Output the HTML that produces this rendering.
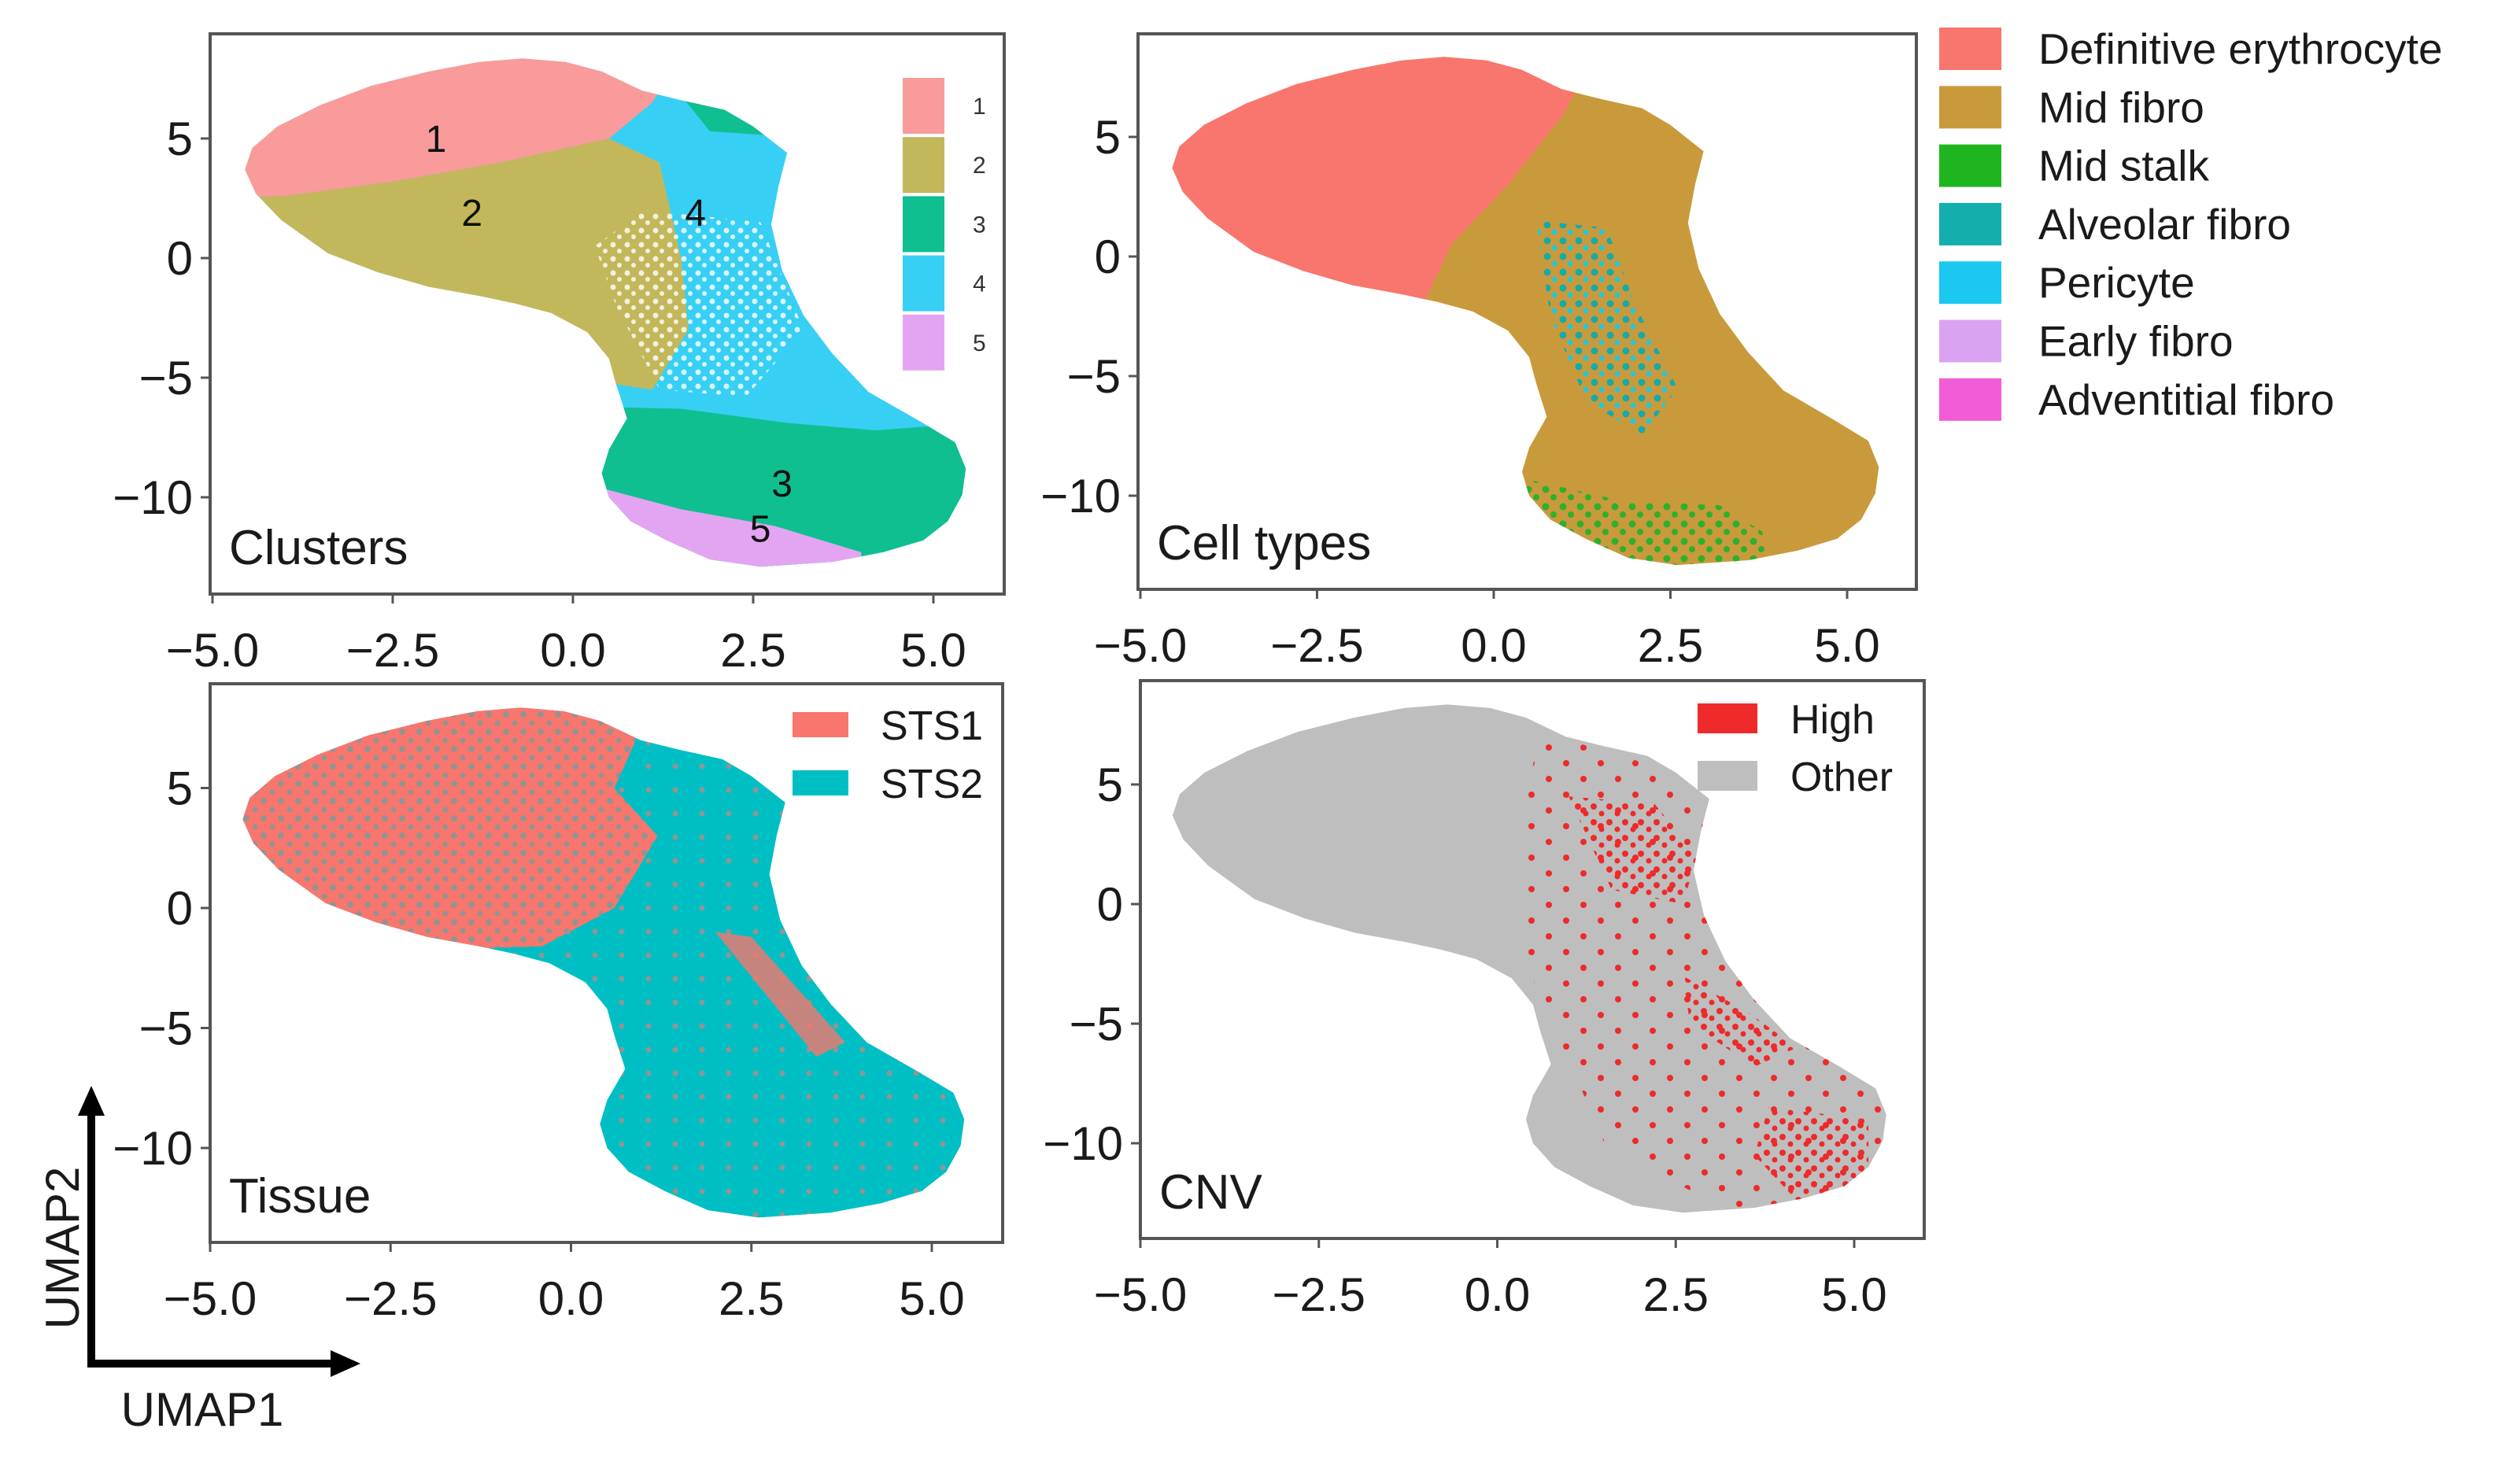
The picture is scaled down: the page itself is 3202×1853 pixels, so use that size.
<!DOCTYPE html>
<html><head><meta charset="utf-8"><style>
html,body{margin:0;padding:0;background:#fff;}
svg{display:block;font-family:"Liberation Sans",sans-serif;}
</style></head><body>
<svg id="fig" width="3202" height="1853" viewBox="0 0 3202 1853" xmlns="http://www.w3.org/2000/svg">
<defs>
<pattern id="dotTeal" width="22" height="22" patternUnits="userSpaceOnUse"><circle cx="5" cy="6" r="4" fill="#19B7BB"/><circle cx="16" cy="17" r="3.5" fill="#19B7BB"/></pattern>
<pattern id="dotSalmon" width="34" height="30" patternUnits="userSpaceOnUse"><circle cx="8" cy="14" r="3.5" fill="#F27A70"/></pattern>
<pattern id="dotRed" width="20" height="20" patternUnits="userSpaceOnUse"><circle cx="5" cy="5" r="4" fill="#EE2A2A"/><circle cx="15" cy="14" r="3.5" fill="#EE2A2A"/></pattern>
<pattern id="dotRedSparse" width="44" height="40" patternUnits="userSpaceOnUse"><circle cx="10" cy="10" r="4" fill="#EE2A2A"/><circle cx="32" cy="30" r="4" fill="#EE2A2A"/></pattern>
<pattern id="dotGreen" width="22" height="22" patternUnits="userSpaceOnUse"><circle cx="6" cy="6" r="4.5" fill="#2DB02D"/><circle cx="16" cy="16" r="4" fill="#2DB02D"/></pattern>
<pattern id="dotAlv" width="20" height="20" patternUnits="userSpaceOnUse"><circle cx="6" cy="6" r="4.5" fill="#15ABA8"/><circle cx="15" cy="15" r="3.5" fill="#22C8D8"/></pattern>
<pattern id="dotWhite" width="18" height="18" patternUnits="userSpaceOnUse"><circle cx="5" cy="5" r="3.5" fill="#fff"/><circle cx="13" cy="13" r="3" fill="#fff"/></pattern>
</defs>
</svg>
<script>
// ---- data (UMAP coordinates) ----
const xTicks = [-5.0, -2.5, 0.0, 2.5, 5.0];
const xTickLabels = ["\u22125.0", "\u22122.5", "0.0", "2.5", "5.0"];
const yTicks = [5, 0, -5, -10];
const yTickLabels = ["5", "0", "\u22125", "\u221210"];
const cloudOutline = [[-4.55,3.7],[-4.45,4.6],[-4.1,5.5],[-3.5,6.4],[-2.8,7.2],[-2.0,7.8],[-1.3,8.2],[-0.7,8.35],[-0.1,8.2],[0.4,7.8],[0.96,7.0],[1.5,6.6],[2.1,6.2],[2.5,5.5],[2.97,4.4],[2.85,3],[2.75,1.4],[2.9,-0.5],[3.2,-2.4],[3.6,-4],[4.1,-5.6],[4.8,-6.8],[5.3,-7.7],[5.45,-8.8],[5.4,-9.9],[5.2,-11],[4.86,-11.8],[4.3,-12.3],[3.6,-12.7],[2.6,-12.9],[1.9,-12.6],[1.3,-11.8],[0.8,-11],[0.5,-10],[0.4,-9],[0.5,-8],[0.75,-6.7],[0.6,-5.3],[0.5,-4.2],[0.2,-3.1],[-0.3,-2.3],[-0.8,-1.9],[-1.27,-1.6],[-2,-1.2],[-2.7,-0.6],[-3.4,0.2],[-4.05,1.6],[-4.4,2.7]];
// clusters panel
const c4Region = [[0.8,9],[3.5,6],[3.2,0],[4.6,-5],[5.5,-7.2],[3.2,-7.4],[1.5,-5.6],[1.3,-3],[1.2,0.5]];
const c2Region = [[-5,2.5],[-4,2.6],[-2.5,3.2],[-1,4],[0.5,5],[1.2,4],[1.5,0],[1.6,-3],[1.1,-5.5],[0,-5],[-5,-2]];
const c1Region = [[-5,9],[1.6,9],[1.1,6.5],[0.5,5],[-1,4],[-2.5,3.2],[-4,2.6],[-5,2.5]];
const c3Region = [[0,-6.2],[1.5,-6.3],[3,-6.9],[4.2,-7.2],[6,-6.8],[6,-13.5],[0,-13.5]];
const c3TopRegion = [[1.5,6.8],[2.6,6.3],[2.9,5.1],[1.9,5.3]];
const c5Region = [[0,-9.3],[1.5,-10.5],[2.8,-11.2],[4,-12.3],[4,-14],[0,-14]];
const neckSparse = [[0.3,0.5],[1.0,2],[2.6,1.5],[3.2,-3],[2.4,-5.8],[1.2,-5.5],[0.6,-2]];
const clusterLabels = ["1","2","4","3","5"];
const clusterLabelX = [-1.9,-1.4,1.7,2.9,2.6];
const clusterLabelY = [5.0,1.9,1.9,-9.4,-11.3];
const clusterLegend = ["1","2","3","4","5"];
const clusterColors = ["#F99B9B","#C3B75B","#10BF90","#38CFF5","#E3A5F2"];
// cell types panel
const salmonCT = [[-5,9],[1.5,9],[1.0,6],[0.2,3],[-0.6,0.5],[-1,-2],[-5,-2]];
const alveolarCT = [[0.6,1.5],[1.6,1.2],[2.0,-2],[2.6,-5.5],[2.1,-7.5],[1.3,-6],[0.8,-2.5]];
const greenCT = [[0.3,-9.2],[1.8,-10.2],[3.2,-10.4],[3.8,-11.5],[4,-14],[0,-14]];
const cellTypeNames = ["Definitive erythrocyte","Mid fibro","Mid stalk","Alveolar fibro","Pericyte","Early fibro","Adventitial fibro"];
const cellTypeColors = ["#F8766D","#C99A3C","#1FB51F","#14AEAD","#1BC8F0","#D9A3F2","#F25CD6"];
// tissue panel
const salmonTissue = [[-5,9],[0.6,9],[0.9,7],[0.6,5],[1.2,3],[0.6,0],[-0.4,-1.6],[-5,-2]];
const salmonStreak = [[2.0,-1],[2.5,-1.2],[3.8,-5.6],[3.4,-6.2]];
const tissueNames = ["STS1","STS2"];
const tissueColors = ["#F8766D","#00BFC4"];
// cnv panel
const redSparse = [[0.6,7.2],[2.4,5.6],[2.9,3.5],[3.1,-1],[4.3,-5.5],[5.5,-8.5],[5.2,-12],[3.2,-12.8],[1.5,-10],[1.0,-6.5],[0.4,-2.5],[0.3,3]];
const redDense1 = [[1.0,4.5],[2.2,4.2],[2.8,2.0],[2.6,0.0],[1.6,0.6]];
const redDense2 = [[2.6,-3],[3.5,-4.5],[4.2,-6],[3.6,-6.8],[2.7,-5]];
const redDense3 = [[3.8,-8.5],[5.2,-9],[5.2,-11.5],[4.2,-12.4],[3.6,-10.5]];
const cnvNames = ["High","Other"];
const cnvColors = ["#EE2A2A","#BEBEBE"];

const NS = "http://www.w3.org/2000/svg";
const svg = document.getElementById('fig');
function mk(tag, attrs, parent){const e=document.createElementNS(NS,tag);for(const k in attrs)e.setAttribute(k,attrs[k]);(parent||svg).appendChild(e);return e;}

const panels = [
 {id:"clusters", title:"Clusters", L:267,T:43,R:1276,B:755, x0:270, xu:91.6, y0:328, yu:30.4},
 {id:"cell-types", title:"Cell types", L:1446,T:43,R:2435,B:749, x0:1449, xu:89.8, y0:326, yu:30.4},
 {id:"tissue", title:"Tissue", L:267,T:869,R:1274,B:1579, x0:267, xu:91.7, y0:1154, yu:30.5},
 {id:"cnv", title:"CNV", L:1449,T:865,R:2445,B:1574, x0:1449, xu:90.7, y0:1149, yu:30.4}
];
panels.forEach(p=>{ p.sx = v => p.x0 + (v+5)*p.xu; p.sy = v => p.y0 - v*p.yu; });
function pts(p, arr){return arr.map(d=>p.sx(d[0]).toFixed(1)+","+p.sy(d[1]).toFixed(1)).join(" ");}

panels.forEach((p,i)=>{
  const g = mk('g',{});
  
  
  const cp = mk('clipPath',{id:'clip'+i}, g);
  mk('polygon',{points:pts(p,cloudOutline)}, cp);
  const cloud = mk('g',{'clip-path':'url(#clip'+i+')'}, g);
  
  
  function region(arr, fill, name){const e=mk('polygon',{points:pts(p,arr),fill:fill},cloud);return e;}
  if(i===0){
    region(cloudOutline,clusterColors[3],'cluster-4-region');
    region(c4Region,clusterColors[3],'cluster-4-region');
    region(c2Region,clusterColors[1],'cluster-2-region');
    region(c1Region,clusterColors[0],'cluster-1-region');
    region(c3Region,clusterColors[2],'cluster-3-region');
    region(c3TopRegion,clusterColors[2],'cluster-3-top-region');
    region(c5Region,clusterColors[4],'cluster-5-region');
    region(neckSparse,'url(#dotWhite)','sparse-neck-gaps').setAttribute('opacity','0.8');
  } else if(i===1){
    region(cloudOutline,cellTypeColors[1],'mid-fibro-region');
    region(salmonCT,cellTypeColors[0],'erythrocyte-region');
    region(alveolarCT,'url(#dotAlv)','alveolar-fibro-region');
    region(greenCT,'url(#dotGreen)','mid-stalk-region');
  } else if(i===2){
    region(cloudOutline,tissueColors[1],'sts2-region');
    region(cloudOutline,'url(#dotSalmon)','sts1-speckle').setAttribute('opacity','0.6');
    region(salmonTissue,tissueColors[0],'sts1-region');
    region(salmonTissue,'url(#dotTeal)','sts2-speckle').setAttribute('opacity','0.45');
    region(salmonStreak,tissueColors[0],'sts1-streak').setAttribute('opacity','0.8');
  } else {
    region(cloudOutline,cnvColors[1],'other-region');
    region(redSparse,'url(#dotRedSparse)','high-sparse-region');
    region(redDense1,'url(#dotRed)','high-dense-region');
    region(redDense2,'url(#dotRed)','high-dense-region');
    region(redDense3,'url(#dotRed)','high-dense-region');
  }
  const fr = mk('rect',{x:p.L,y:p.T,width:p.R-p.L,height:p.B-p.T,fill:'none',stroke:'#555',"stroke-width":4}, g);
   
  xTicks.forEach((v,k)=>{
    mk('line',{x1:p.sx(v),x2:p.sx(v),y1:p.B,y2:p.B+12,stroke:'#555','stroke-width':3},g);
    const t = mk('text',{x:p.sx(v),y:p.B+92,'text-anchor':'middle','font-size':60,fill:'#1a1a1a'},g);
    t.textContent = xTickLabels[k];
     
  });
  yTicks.forEach((v,k)=>{
    mk('line',{x1:p.L-12,x2:p.L,y1:p.sy(v),y2:p.sy(v),stroke:'#555','stroke-width':3},g);
    const t = mk('text',{x:p.L-22,y:p.sy(v)+21,'text-anchor':'end','font-size':60,fill:'#1a1a1a'},g);
    t.textContent = yTickLabels[k];
     
  });
  const tt = mk('text',{x:p.L+24,y:p.B-38,'font-size':62,fill:'#1a1a1a'},g);
  tt.textContent = p.title;
   
  p.g = g;
});

const P1 = panels[0];
clusterLabels.forEach((s,k)=>{
  const t = mk('text',{x:P1.sx(clusterLabelX[k]),y:P1.sy(clusterLabelY[k])+17,'text-anchor':'middle','font-size':48,fill:'#111'},P1.g);
  t.textContent = s;
   
});
clusterLegend.forEach((s,k)=>{
  const y = 97 + k*75.2;
  const r = mk('rect',{x:1147,y:y+2,width:53,height:71,fill:clusterColors[k]},P1.g);
   
  const t = mk('text',{x:1236,y:y+48,'font-size':30,fill:'#333'},P1.g);
  t.textContent = s;
   
});
cellTypeNames.forEach((s,k)=>{
  const cy = 62 + k*74.3;
  const r = mk('rect',{x:2464,y:cy-27,width:79,height:54,fill:cellTypeColors[k]});
   
  const t = mk('text',{x:2590,y:cy+19,'font-size':55,fill:'#1a1a1a'});
  t.textContent = s;
   
});
tissueNames.forEach((s,k)=>{
  const cy = 921 + k*74;
  const r = mk('rect',{x:1007,y:cy-16,width:71,height:32,fill:tissueColors[k]});
   
  const t = mk('text',{x:1119,y:cy+19,'font-size':52,fill:'#1a1a1a'});
  t.textContent = s;
   
});
cnvNames.forEach((s,k)=>{
  const cy = 913 + k*73;
  const r = mk('rect',{x:2157,y:cy-19,width:76,height:38,fill:cnvColors[k]});
   
  const t = mk('text',{x:2275,y:cy+19,'font-size':52,fill:'#1a1a1a'});
  t.textContent = s;
   
});
const ax = mk('g',{});
 
mk('line',{x1:116,y1:1733,x2:116,y2:1410,stroke:'#000','stroke-width':10},ax);
mk('polygon',{points:"116,1380 99,1418 133,1418",fill:'#000'},ax);
mk('line',{x1:111,y1:1733,x2:425,y2:1733,stroke:'#000','stroke-width':10},ax);
mk('polygon',{points:"458,1733 420,1716 420,1750",fill:'#000'},ax);
const u2 = mk('text',{x:0,y:0,'font-size':60,fill:'#1a1a1a','text-anchor':'middle',transform:'translate(100,1586) rotate(-90)'},ax);
u2.textContent='UMAP2';  
const u1 = mk('text',{x:257,y:1812,'font-size':60,fill:'#1a1a1a','text-anchor':'middle'},ax);
u1.textContent='UMAP1';  
</script>
</body></html>
